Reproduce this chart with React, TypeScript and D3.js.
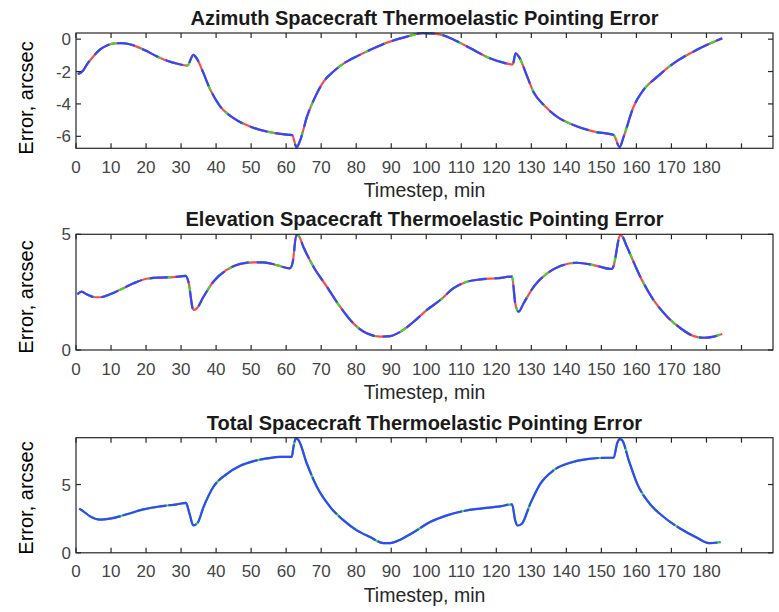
import { useRef, useEffect } from 'react';
import * as d3 from 'd3';

/* ── values ────────────────────────────────────────────────── */
const azTime = [0.5, 2, 3, 5, 7, 9, 11, 13, 15, 17, 20, 23, 26, 29, 31.8, 33.5, 34.5, 36.3, 38.3, 41, 45, 50, 55, 59, 61.7, 63, 64, 66, 68, 70.7, 73.5, 77, 81, 85, 89, 94.5, 99, 103, 108, 112.6, 117.3, 122, 124.7, 125.5, 126.4, 128.8, 130.7, 133.5, 137.3, 142, 148, 153.5, 155.2, 156.4, 159.2, 162, 166, 170.7, 175.4, 180.2, 184.5];
const azError = [-2.15, -1.95, -1.6, -1.05, -0.62, -0.38, -0.26, -0.25, -0.3, -0.43, -0.72, -1.05, -1.33, -1.52, -1.63, -0.97, -1.2, -2.05, -3.1, -4.1, -4.88, -5.42, -5.73, -5.87, -5.93, -6.68, -6.25, -4.75, -3.7, -2.62, -2.0, -1.42, -0.97, -0.56, -0.2, 0.16, 0.37, 0.33, -0.05, -0.56, -1.1, -1.45, -1.56, -0.87, -1.07, -2.3, -3.3, -4.05, -4.79, -5.3, -5.71, -5.92, -6.66, -6.0, -4.17, -3.14, -2.31, -1.48, -0.87, -0.35, 0.05];

const elTime = [0.4, 1.6, 3, 5.4, 6.9, 9.7, 13.5, 16.4, 20.2, 24, 27.8, 31.3, 32.1, 33.5, 34.5, 36.4, 39.2, 43, 46.9, 50.7, 53.5, 57.3, 61.1, 61.9, 62.9, 63.5, 64.9, 67.8, 71.6, 75.4, 79.2, 83, 86.9, 89.7, 92.6, 96.4, 100.2, 104, 107.8, 111.6, 115.4, 120.2, 124.5, 125.4, 126.4, 127.8, 130.7, 134.5, 138.3, 143, 147.8, 153, 153.4, 155.4, 155.9, 157.3, 161.1, 164.9, 168.8, 172.6, 176.4, 179.2, 182.1, 184.5];
const elError = [2.41, 2.52, 2.41, 2.28, 2.28, 2.41, 2.67, 2.88, 3.08, 3.13, 3.15, 3.2, 2.95, 1.73, 1.8, 2.3, 2.95, 3.46, 3.72, 3.79, 3.79, 3.67, 3.53, 3.82, 4.97, 4.95, 4.46, 3.6, 2.74, 1.87, 1.15, 0.72, 0.58, 0.6, 0.79, 1.22, 1.73, 2.16, 2.67, 2.95, 3.05, 3.1, 3.17, 2.02, 1.66, 2.02, 2.74, 3.31, 3.63, 3.77, 3.67, 3.5, 3.6, 4.95, 4.92, 4.46, 3.17, 2.16, 1.44, 0.94, 0.6, 0.53, 0.58, 0.69];

const totTime = [0.9, 2.1, 4, 6.9, 9.7, 14.5, 19.2, 24, 28.8, 31.4, 32.4, 33.5, 34.7, 36.4, 39.2, 43, 46.9, 50.7, 54.5, 58.3, 61.6, 62.1, 62.8, 63.5, 65.9, 68.8, 72.6, 76.4, 80.2, 84, 87.8, 89.7, 92.6, 96.4, 101.1, 105.9, 110.7, 115.4, 121.1, 124.5, 125.4, 126.1, 127.3, 129.7, 132.6, 136.4, 141.1, 145.9, 151.6, 153.5, 154.5, 155.2, 155.9, 157.8, 160.2, 163, 167.8, 172.6, 177.3, 180.7, 184];
const totError = [3.24, 3.04, 2.67, 2.43, 2.5, 2.82, 3.18, 3.4, 3.55, 3.65, 2.87, 2.0, 2.18, 3.35, 4.82, 5.76, 6.37, 6.71, 6.91, 7.03, 7.03, 7.76, 8.38, 8.26, 6.54, 4.82, 3.35, 2.37, 1.64, 1.15, 0.71, 0.71, 0.96, 1.51, 2.25, 2.74, 3.06, 3.24, 3.4, 3.55, 2.37, 2.0, 2.13, 3.6, 5.07, 6.05, 6.59, 6.86, 6.96, 6.96, 8.01, 8.33, 8.26, 6.79, 5.07, 3.85, 2.62, 1.76, 1.1, 0.71, 0.78];

const xTicks = [0, 10, 20, 30, 40, 50, 60, 70, 80, 90, 100, 110, 120, 130, 140, 150, 160, 170, 180, 190];
const xTickLabels = ['0', '10', '20', '30', '40', '50', '60', '70', '80', '90', '100', '110', '120', '130', '140', '150', '160', '170', '180', ''];
const azTicks = [-6, -4, -2, 0];
const elTicks = [0, 5];
const totTicks = [0, 5];

const titles = [
  'Azimuth Spacecraft Thermoelastic Pointing Error',
  'Elevation Spacecraft Thermoelastic Pointing Error',
  'Total Spacecraft Thermoelastic Pointing Error',
];

const FONT = '"Liberation Sans", Arial, Helvetica, sans-serif';
const AXIS = '#262626';

type Panel = {
  title: string;
  time: number[];
  values: number[];
  yDomain: [number, number];
  yTicks: number[];
  top: number;
  bottom: number;
  labelY: number;
  triple: boolean;
};

export default function App() {
  const svgRef = useRef<SVGSVGElement>(null);

  useEffect(() => {
    const svg = d3.select(svgRef.current);
    svg.selectAll('*').remove();

    const left = 76, right = 773;
    const x = d3.scaleLinear().domain([0, 199]).range([left, right]);

    const panels: Panel[] = [
      { title: titles[0], time: azTime, values: azError, yDomain: [-6.74, 0.38], yTicks: azTicks, top: 33, bottom: 148.3, labelY: 98, triple: true },
      { title: titles[1], time: elTime, values: elError, yDomain: [0, 5], yTicks: elTicks, top: 234.3, bottom: 350, labelY: 297, triple: true },
      { title: titles[2], time: totTime, values: totError, yDomain: [0, 8.43], yTicks: totTicks, top: 437.7, bottom: 552.8, labelY: 498, triple: false },
    ];

    svg.append('rect').attr('width', 779).attr('height', 612).attr('fill', '#fff');

    panels.forEach(p => {
      const y = d3.scaleLinear().domain(p.yDomain).range([p.bottom, p.top]);
      const g = svg.append('g');

      // data lines (three overlaid runs, drawn on top of each other)
      const pts = p.time.map((t, i) => [t, p.values[i]] as [number, number]);
      const line = d3.line<[number, number]>()
        .x(d => x(d[0]))
        .y(d => y(d[1]))
        .curve(d3.curveMonotoneX);
      const path = line(pts) || '';

      if (p.triple) {
        g.append('path').attr('d', path).attr('fill', 'none')
          .attr('stroke', '#ff4a4a').attr('stroke-width', 2.2);
        g.append('path').attr('d', path).attr('fill', 'none')
          .attr('stroke', '#2ee02e').attr('stroke-width', 2.2)
          .attr('stroke-dasharray', '6,10').attr('stroke-dashoffset', 3);
        g.append('path').attr('d', path).attr('fill', 'none')
          .attr('stroke', '#3347ff').attr('stroke-width', 2.2)
          .attr('stroke-dasharray', '18,8');
      } else {
        g.append('path').attr('d', path).attr('fill', 'none')
          .attr('stroke', '#2ee02e').attr('stroke-width', 2.2);
        g.append('path').attr('d', path).attr('fill', 'none')
          .attr('stroke', '#3347ff').attr('stroke-width', 2.2)
          .attr('stroke-dasharray', '45,2');
      }

      // box
      g.append('rect')
        .attr('x', left).attr('y', p.top)
        .attr('width', right - left).attr('height', p.bottom - p.top)
        .attr('fill', 'none').attr('stroke', AXIS).attr('stroke-width', 1.2);

      // x ticks, inward on bottom and top
      xTicks.forEach((t, i) => {
        const xp = x(t);
        g.append('line').attr('x1', xp).attr('x2', xp)
          .attr('y1', p.bottom).attr('y2', p.bottom - 5)
          .attr('stroke', AXIS).attr('stroke-width', 1.2);
        g.append('line').attr('x1', xp).attr('x2', xp)
          .attr('y1', p.top).attr('y2', p.top + 5)
          .attr('stroke', AXIS).attr('stroke-width', 1.2);
        if (xTickLabels[i]) {
          g.append('text')
            .attr('x', xp).attr('y', p.bottom + 24.5)
            .attr('text-anchor', 'middle')
            .style('font-family', FONT).style('font-size', '17px')
            .attr('fill', '#444')
            .text(xTickLabels[i]);
        }
      });

      // y ticks, inward on left and right
      p.yTicks.forEach(v => {
        const yp = y(v);
        g.append('line').attr('x1', left).attr('x2', left + 5)
          .attr('y1', yp).attr('y2', yp)
          .attr('stroke', AXIS).attr('stroke-width', 1.2);
        g.append('line').attr('x1', right).attr('x2', right - 5)
          .attr('y1', yp).attr('y2', yp)
          .attr('stroke', AXIS).attr('stroke-width', 1.2);
        g.append('text')
          .attr('x', left - 5).attr('y', yp + 6)
          .attr('text-anchor', 'end')
          .style('font-family', FONT).style('font-size', '17px')
          .attr('fill', '#444')
          .text(String(v));
      });

      // title
      g.append('text')
        .attr('x', (left + right) / 2).attr('y', p.top - 8)
        .attr('text-anchor', 'middle')
        .style('font-family', FONT).style('font-size', '20px').style('font-weight', 'bold')
        .attr('fill', '#1a1a1a')
        .text(p.title);

      // x axis label
      g.append('text')
        .attr('x', (left + right) / 2).attr('y', p.bottom + 49)
        .attr('text-anchor', 'middle')
        .style('font-family', FONT).style('font-size', '19.5px')
        .attr('fill', AXIS)
        .text('Timestep, min');

      // y axis label
      g.append('text')
        .attr('transform', `translate(33,${p.labelY}) rotate(-90)`)
        .attr('text-anchor', 'middle')
        .style('font-family', FONT).style('font-size', '20px')
        .attr('fill', '#000')
        .text('Error, arcsec');
    });
  }, []);

  return (
    <svg ref={svgRef} width={779} height={612}
      style={{ position: 'absolute', left: 0, top: 0, display: 'block' }} />
  );
}
